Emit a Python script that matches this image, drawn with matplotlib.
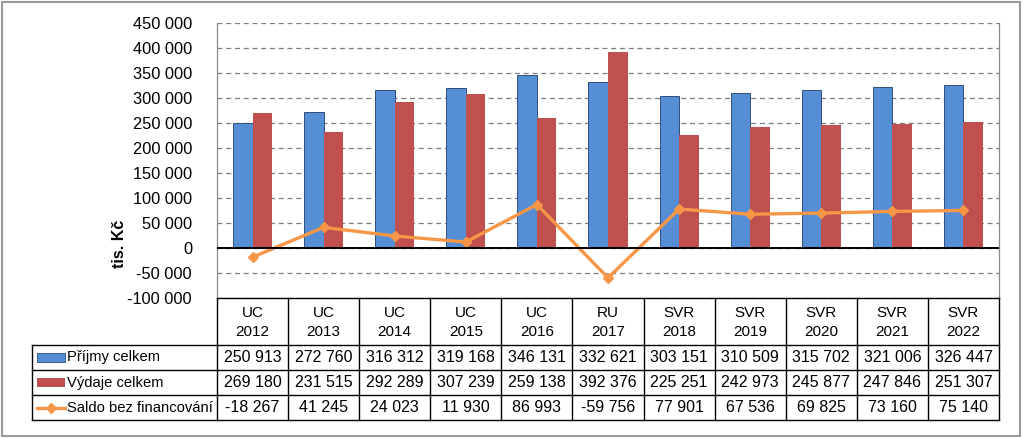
import matplotlib.pyplot as plt
import matplotlib.ticker as mticker
from matplotlib.patches import Rectangle
from matplotlib.lines import Line2D
import numpy as np

plt.rcParams['font.family'] = ['Liberation Sans', 'DejaVu Sans']

periods = ['UC', 'UC', 'UC', 'UC', 'UC', 'RU', 'SVR', 'SVR', 'SVR', 'SVR', 'SVR']
years = ['2012', '2013', '2014', '2015', '2016', '2017', '2018', '2019', '2020', '2021', '2022']
prijmy = [250913, 272760, 316312, 319168, 346131, 332621, 303151, 310509, 315702, 321006, 326447]
vydaje = [269180, 231515, 292289, 307239, 259138, 392376, 225251, 242973, 245877, 247846, 251307]
saldo = [-18267, 41245, 24023, 11930, 86993, -59756, 77901, 67536, 69825, 73160, 75140]
series_labels = ['Příjmy celkem', 'Výdaje celkem', 'Saldo bez financování']

c_blue = '#558ED5'
c_red = '#C0504D'
c_orange = '#F79646'


def fmt(v):
    return f'{int(v):,}'.replace(',', ' ')


W, H = 1023, 438
fig = plt.figure(figsize=(W / 100, H / 100), dpi=100)

# plot area in pixels
px0, px1, py0, py1 = 217, 999, 23, 298
ax = fig.add_axes([px0 / W, 1 - py1 / H, (px1 - px0) / W, (py1 - py0) / H])

n = len(years)
x = np.arange(n)
bw = 0.275
ax.bar(x - bw / 2, prijmy, bw, color=c_blue, edgecolor='#2F4F7A', linewidth=0.7, zorder=3)
ax.bar(x + bw / 2, vydaje, bw, color=c_red, edgecolor='none', zorder=3)
ax.plot(x, saldo, color=c_orange, lw=2.4, marker='D', ms=5, zorder=4)

ax.set_xlim(-0.5, n - 0.5)
ax.set_ylim(-100000, 450000)
ax.yaxis.set_major_locator(mticker.MultipleLocator(50000))
ax.yaxis.set_major_formatter(mticker.FuncFormatter(lambda v, p: fmt(v)))
ax.tick_params(axis='y', length=0, pad=18, labelsize=11.8)
ax.set_xticks([])
ax.grid(axis='y', color='#7F7F7F', linestyle=(0, (4, 3)), linewidth=0.9, zorder=0)
ax.axhline(0, color='black', lw=1.4, zorder=5)
for s in ['left', 'right']:
    ax.spines[s].set_color('#8C8C8C')
    ax.spines[s].set_linewidth(0.9)
ax.spines['top'].set_visible(False)
ax.spines['bottom'].set_visible(False)

fig.text(119 / W, 1 - 244 / H, 'tis. Kč', rotation=90, ha='center', va='center',
         fontsize=11.5, fontweight='bold')

# overlay in pixel coordinates for the data table and border
ov = fig.add_axes([0, 0, 1, 1], zorder=-1)
ov.set_xlim(0, W)
ov.set_ylim(H, 0)
ov.axis('off')
ov.add_patch(Rectangle((2, 2), 1018, 434, fill=False, edgecolor='#9A9A9A', lw=1.5))

tab = fig.add_axes([0, 0, 1, 1], zorder=6)
tab.set_xlim(0, W)
tab.set_ylim(H, 0)
tab.axis('off')
tab.patch.set_alpha(0)

cw = (px1 - px0) / n
lx0 = 32
head_top, head_bot = 298, 345
row_h = 25
row_tops = [head_bot + i * row_h for i in range(3)]
tab_bot = head_bot + 3 * row_h

lk = dict(color='black', lw=1.0)
tab.add_line(Line2D([px0, px1], [head_top, head_top], **lk))
tab.add_line(Line2D([lx0, px1], [head_bot, head_bot], **lk))
for rt in row_tops[1:] + [tab_bot]:
    tab.add_line(Line2D([lx0, px1], [rt, rt], **lk))
tab.add_line(Line2D([lx0, lx0], [head_bot, tab_bot], **lk))
for i in range(n + 1):
    tab.add_line(Line2D([px0 + i * cw] * 2, [head_top, tab_bot], **lk))

for i in range(n):
    cx = px0 + (i + 0.5) * cw
    tab.text(cx, (head_top + head_bot) / 2 + 1, f'{periods[i]}\n{years[i]}', ha='center', va='center',
             fontsize=11, linespacing=1.4)

rows = [prijmy, vydaje, saldo]
for r, vals in enumerate(rows):
    cy = row_tops[r] + row_h / 2
    for i, v in enumerate(vals):
        tab.text(px0 + (i + 0.5) * cw, cy, fmt(v), ha='center', va='center', fontsize=11.5)
    tab.text(67, cy, series_labels[r], ha='left', va='center', fontsize=10.6)

# legend keys
cy = row_tops[0] + row_h / 2
tab.add_patch(Rectangle((37, cy - 4.5), 28, 9, facecolor=c_blue, edgecolor='#2F4F7A', lw=0.6))
cy = row_tops[1] + row_h / 2
tab.add_patch(Rectangle((37, cy - 4.5), 28, 9, facecolor=c_red, edgecolor='none'))
cy = row_tops[2] + row_h / 2
tab.add_line(Line2D([37, 65], [cy, cy], color=c_orange, lw=2.4))
tab.add_line(Line2D([51], [cy], color=c_orange, marker='D', ms=5))

fig.savefig('out.png', dpi=100)
